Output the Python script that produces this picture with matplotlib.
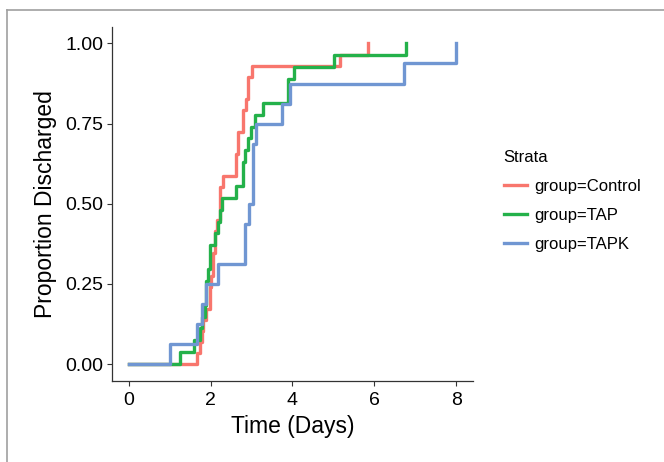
import matplotlib.pyplot as plt
from matplotlib.lines import Line2D

plt.rcParams['font.family'] = ['Liberation Sans', 'DejaVu Sans']

# Event times (days) and cumulative proportion discharged
control_t = [0, 1.66, 1.74, 1.78, 1.82, 1.90, 1.98, 2.02, 2.06, 2.10, 2.15,
             2.23, 2.31, 2.61, 2.67, 2.78, 2.87, 2.91, 3.00, 5.17, 5.84]
control_p = [0, 1/29, 2/29, 3/29, 4/29, 5/29, 7/29, 8/29, 10/29, 12/29, 13/29,
             16/29, 17/29, 19/29, 21/29, 23/29, 24/29, 26/29, 27/29, 28/29, 1.0]

tap_t = [0, 1.25, 1.60, 1.74, 1.80, 1.86, 1.90, 1.94, 1.98, 2.10, 2.18, 2.22,
         2.27, 2.63, 2.79, 2.83, 2.91, 2.98, 3.08, 3.28, 3.89, 4.03, 5.01, 6.77]
tap_p = [0, 1/27, 2/27, 3/27, 4/27, 5/27, 7/27, 8/27, 10/27, 11/27, 12/27, 13/27,
         14/27, 15/27, 17/27, 18/27, 19/27, 20/27, 21/27, 22/27, 24/27, 25/27, 26/27, 1.0]

tapk_t = [0, 1.01, 1.68, 1.78, 1.90, 2.18, 2.83, 2.94, 3.04, 3.12, 3.75, 3.93, 6.71, 8.00]
tapk_p = [0, 1/16, 2/16, 3/16, 4/16, 5/16, 7/16, 8/16, 11/16, 12/16, 13/16, 14/16, 15/16, 1.0]

groups = ['group=Control', 'group=TAP', 'group=TAPK']
colors = ['#F8766D', '#24B14A', '#7096D2']

fig = plt.figure(figsize=(6.64, 4.62), dpi=100)
ax = fig.add_axes([0.169, 0.176, 0.543, 0.766])

for t, p, lab, c in zip([control_t, tap_t, tapk_t], [control_p, tap_p, tapk_p], groups, colors):
    ax.step(t, p, where='post', color=c, lw=2.4, label=lab)

ax.set_xlim(-0.4, 8.4)
ax.set_ylim(-0.052, 1.052)
ax.set_xticks([0, 2, 4, 6, 8])
ax.set_yticks([0, 0.25, 0.5, 0.75, 1.0])
ax.set_yticklabels(['0.00', '0.25', '0.50', '0.75', '1.00'])
ax.tick_params(labelsize=14, length=3.5, width=0.8, color='#333333', labelcolor='black')
ax.tick_params(axis='x', pad=5)
ax.tick_params(axis='y', pad=3)
for s in ['top', 'right']:
    ax.spines[s].set_visible(False)
for s in ['left', 'bottom']:
    ax.spines[s].set_color('#333333')
    ax.spines[s].set_linewidth(0.9)

ax.set_xlabel('Time (Days)', fontsize=16.5, labelpad=4)
ax.set_ylabel('Proportion Discharged', fontsize=16.5, labelpad=6)

leg = ax.legend(title='Strata', frameon=False, fontsize=12, title_fontsize=12,
                loc='center left', bbox_to_anchor=(0.736, 0.565),
                bbox_transform=fig.transFigure, handlelength=1.4,
                handletextpad=0.45, labelspacing=0.85)
leg._legend_box.align = 'left'

# gray border of the original panel (top and left edges)
top = 1 - 9.5 / 462
left = 6.5 / 664
fig.add_artist(Line2D([left, 1.0], [top, top], transform=fig.transFigure,
                      color='#A0A0A0', lw=1.2))
fig.add_artist(Line2D([left, left], [0.0, top], transform=fig.transFigure,
                      color='#A0A0A0', lw=1.2))

fig.savefig('out.png', dpi=100)
